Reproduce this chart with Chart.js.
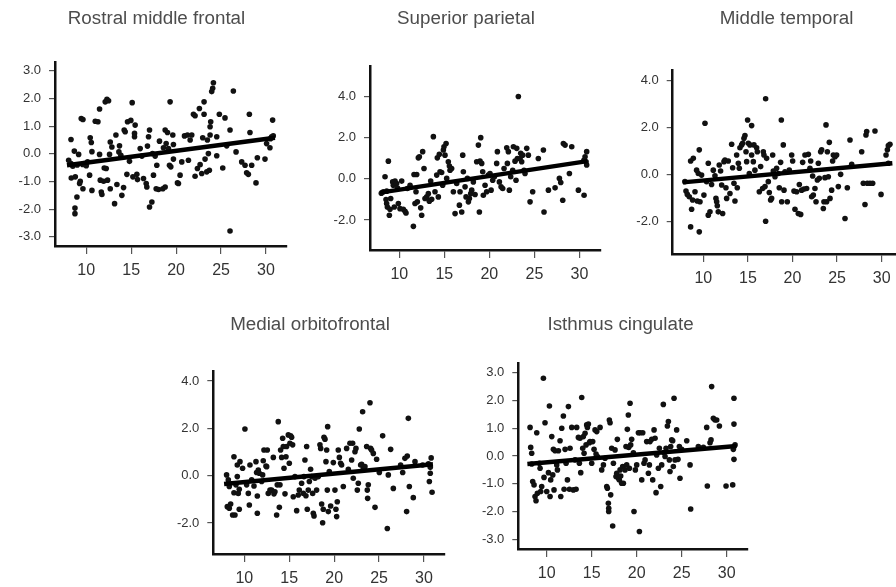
<!DOCTYPE html>
<html><head><meta charset="utf-8">
<script src="https://cdn.jsdelivr.net/npm/chart.js@4.4.1/dist/chart.umd.min.js"></script>
<style>
html,body{margin:0;padding:0;background:#fff;overflow:hidden;width:896px;height:587px;position:relative}
canvas{position:absolute}
</style></head><body>
<canvas id="c1"></canvas>
<canvas id="c2"></canvas>
<canvas id="c3"></canvas>
<canvas id="c4"></canvas>
<canvas id="c5"></canvas>
<script>
// ---------- data ----------
const titles = ["Rostral middle frontal", "Superior parietal", "Middle temporal", "Medial orbitofrontal", "Isthmus cingulate"];
const xTicks = [10, 15, 20, 25, 30];
const yTicksWide = [-3, -2, -1, 0, 1, 2, 3];
const yTicksNarrow = [-2, 0, 2, 4];

const rostralPoints = [[8.3,0.52],[8.04,-0.23],[8.3,-0.35],[8.67,0.1],[8.33,-0.87],[8.78,-0.83],[8.74,-1.96],[8.74,-2.16],[8.96,-1.56],[9.15,-0.02],[9.33,-0.99],[9.26,-1.07],[9.44,1.28],[9.63,1.24],[9.63,-1.26],[9.78,-0.35],[10,-0.43],[10.15,-0.29],[10.44,0.58],[10.56,0.41],[10.63,0.08],[10.37,-0.77],[10.63,-1.32],[11.0,1.18],[11.3,1.16],[11.48,1.62],[11.48,-0.02],[11.56,-0.95],[11.67,-1.38],[11.74,-1.47],[11.93,-0.99],[12.0,-0.51],[12.11,1.88],[12.3,1.97],[12.48,1.92],[12.22,-0.53],[12.37,-0.95],[12.59,-0.02],[12.67,0.43],[12.67,-1.26],[12.85,0.25],[13.15,-1.8],[13.3,0.68],[13.41,-1.11],[13.63,0.07],[13.7,0.29],[13.85,-0.05],[13.96,-1.5],[14.15,-1.22],[14.22,0.86],[14.33,0.8],[14.52,-0.74],[14.59,1.16],[14.81,-0.27],[14.96,1.21],[15.11,1.85],[15.19,-0.83],[15.37,0.74],[15.44,1.04],[15.37,0.62],[15.63,-0.74],[15.7,-0.93],[16.0,0.19],[16.19,-0.08],[16.37,-0.89],[16.67,-1.07],[16.74,-1.2],[16.81,0.28],[16.93,0.62],[17.04,0.86],[17.04,-1.92],[17.3,-1.74],[17.37,0.01],[17.48,-0.77],[17.67,-0.08],[17.85,-0.41],[17.78,-1.26],[18.04,-1.29],[18.15,0.46],[18.52,-1.26],[18.59,0.22],[18.78,0.86],[18.89,0.37],[18.78,-1.2],[19.04,0.77],[19.15,0.19],[19.33,1.88],[19.26,-0.41],[19.41,-0.47],[19.63,0.68],[19.7,0.34],[19.7,-0.19],[20.15,-1.05],[20.26,-1.07],[20.44,-0.77],[20.63,-0.29],[20.93,0.65],[21.26,0.68],[21.37,-0.23],[21.56,0.5],[21.74,0.68],[21.93,1.43],[22.11,1.38],[22.11,-0.81],[22.37,-0.53],[22.59,1.64],[22.67,-0.39],[22.85,-0.71],[22.96,0.58],[23.11,1.43],[23.11,1.88],[23.22,-0.19],[23.41,-0.65],[23.48,0.5],[23.59,0.01],[23.7,-0.59],[23.78,0.98],[23.85,1.16],[23.78,0.68],[23.96,2.25],[24.07,2.37],[24.15,2.57],[24.52,-0.07],[24.52,0.62],[24.81,1.43],[25.19,-0.51],[25.44,1.3],[25.63,0.29],[26.0,0.86],[26.0,-2.79],[26.37,2.27],[26.67,0.07],[27.3,-0.29],[27.67,-0.41],[27.85,-0.68],[28.04,-0.74],[28.15,1.43],[28.22,0.77],[28.41,-0.41],[28.89,-1.05],[29.04,-0.14],[29.89,-0.19],[30.07,0.37],[30.44,0.22],[30.63,0.62],[30.74,1.22],[30.81,0.65],[8.5,-0.45],[9.0,-0.4],[9.6,-0.38],[30.5,0.55]];
const rostralFit = [[7.85,-0.41],[31.0,0.58]];

const parietalPoints = [[8.41,0.1],[8.78,0.86],[8.22,-0.63],[8.52,-1.01],[8.59,-1.2],[8.67,-1.37],[8.96,-1.48],[8.89,-1.77],[9.04,-0.96],[9.26,-0.15],[9.33,-0.31],[9.44,-1.37],[9.52,-0.11],[9.7,-0.23],[9.89,-1.2],[10.07,-1.45],[10.26,-0.11],[10.44,-1.48],[10.63,-1.58],[10.74,-1.66],[10.89,-0.47],[11.19,-0.31],[11.56,-2.31],[11.63,0.21],[11.74,-1.2],[11.85,-0.63],[11.93,0.21],[12.0,-1.12],[12.11,1.02],[12.22,1.07],[12.37,-1.41],[12.48,-1.77],[12.59,1.32],[12.74,0.5],[12.85,-0.96],[13.04,-0.88],[13.22,-0.72],[13.33,-1.09],[13.48,-0.11],[13.59,-0.99],[13.78,2.05],[13.96,-0.63],[14.15,0.18],[14.22,1.02],[14.33,-0.88],[14.44,1.19],[14.52,0.34],[14.7,0.31],[14.81,-0.31],[14.89,1.4],[14.96,1.56],[15.07,1.15],[15.19,1.72],[15.26,0.02],[15.44,0.83],[15.56,0.62],[15.63,0.42],[15.81,0.5],[16.0,-0.63],[16.19,-1.69],[16.37,-0.23],[16.67,-1.28],[16.74,-0.63],[16.93,-1.61],[17.04,1.15],[17.11,0.34],[17.3,-0.39],[17.41,-0.88],[17.56,0.02],[17.67,-1.12],[17.78,-0.96],[17.93,-0.72],[18.04,-0.55],[18.22,-0.15],[18.41,-0.76],[18.59,0.83],[18.78,1.64],[18.89,-1.61],[18.96,0.86],[19.04,2.0],[19.15,0.75],[19.26,0.34],[19.33,-0.8],[19.52,-0.31],[19.7,-0.63],[19.89,0.18],[20.07,0.26],[20.19,-0.55],[20.37,-0.07],[20.56,0.1],[20.81,0.75],[20.89,1.32],[21.11,-0.15],[21.3,-0.39],[21.48,-0.47],[21.63,0.5],[21.93,1.51],[22.0,0.75],[22.11,1.32],[22.22,-0.55],[22.37,0.1],[22.59,0.42],[22.67,1.56],[22.85,0.86],[22.96,-0.07],[23.04,1.48],[23.11,0.99],[23.22,4.0],[23.41,0.99],[23.48,1.24],[23.59,0.83],[23.7,1.15],[23.85,0.42],[23.96,0.26],[24.15,1.48],[24.33,1.15],[24.52,-1.12],[24.81,-0.63],[25.44,0.99],[26.0,1.4],[26.07,-1.61],[26.56,-0.55],[27.3,-0.44],[27.78,0.02],[27.93,-0.18],[28.15,-1.04],[28.22,1.72],[28.41,1.64],[28.89,0.26],[29.15,1.56],[29.89,-0.55],[30.52,-0.8],[30.63,1.07],[30.74,0.83],[30.81,1.32],[30.81,0.67],[8.0,-0.7],[8.6,-0.6],[9.8,-0.45],[30.5,0.9]];
const parietalFit = [[7.85,-0.67],[30.9,0.86]];

const temporalPoints = [[7.94,-0.31],[8.06,-0.71],[8.21,-0.85],[8.43,-0.95],[8.58,0.57],[8.69,-1.48],[8.8,-1.09],[8.88,0.68],[9.07,-0.74],[9.25,0.18],[9.33,-1.13],[9.44,0.04],[9.55,1.04],[9.63,-1.16],[9.81,-0.03],[8.58,-2.23],[9.55,-2.44],[10.19,2.17],[10.07,-0.88],[10.37,-0.31],[10.56,0.47],[10.56,-1.73],[10.75,-1.59],[10.93,-0.43],[11.12,0.18],[11.31,-0.06],[11.42,-1.02],[11.5,-1.16],[11.57,-1.33],[11.68,-1.59],[11.79,0.4],[11.94,0.14],[12.06,-0.45],[12.17,-1.66],[12.32,0.54],[12.43,0.61],[12.54,-0.57],[12.62,-1.02],[12.8,0.57],[12.99,-0.81],[13.18,1.28],[13.29,0.28],[13.44,-0.38],[13.55,-1.13],[13.74,0.82],[13.81,-0.57],[13.93,0.47],[14.04,0.26],[14.11,1.13],[14.3,1.25],[14.41,1.32],[14.56,1.53],[14.67,1.65],[14.79,0.96],[14.86,0.54],[14.97,2.31],[15.05,1.32],[15.16,0.04],[15.23,1.25],[15.42,2.07],[15.42,0.82],[15.61,0.54],[15.68,1.25],[15.79,0.18],[15.98,1.13],[16.06,0.96],[16.28,-0.74],[16.43,0.33],[16.65,-0.6],[16.73,0.96],[16.8,0.82],[16.92,-0.52],[16.99,-1.99],[16.99,3.21],[17.1,0.68],[17.29,-0.31],[17.4,-0.77],[17.55,-1.09],[17.66,-1.02],[17.78,0.82],[17.85,0.14],[18.04,-0.1],[18.22,0.26],[18.41,0.04],[18.52,-0.57],[18.67,0.51],[18.75,2.31],[18.79,-1.16],[18.97,1.25],[19.05,-0.67],[19.16,0.11],[19.42,-1.16],[19.64,0.18],[19.91,0.82],[20.02,0.57],[20.17,-0.71],[20.28,-1.48],[20.47,-0.74],[20.65,-1.66],[20.77,-0.43],[20.92,-1.7],[21.03,-0.67],[21.14,0.51],[21.29,-0.62],[21.4,0.82],[21.59,-0.6],[21.78,0.85],[21.96,0.26],[22.04,0.57],[22.15,-0.95],[22.26,-0.07],[22.34,-0.88],[22.52,-0.6],[22.64,-1.16],[22.79,-0.24],[22.9,0.47],[23.01,-0.17],[23.16,0.96],[23.27,1.04],[23.46,-1.45],[23.53,-1.16],[23.64,-0.14],[23.76,2.1],[23.83,-1.16],[23.91,0.96],[24.02,-0.1],[24.13,1.36],[24.21,-1.02],[24.39,-0.67],[24.5,0.57],[24.58,0.82],[24.77,0.75],[24.95,0.82],[25.14,-0.52],[25.4,0],[25.89,-1.87],[26.15,-0.57],[26.45,1.46],[26.64,0.43],[27.76,0.96],[27.94,-0.38],[28.13,-1.28],[28.24,1.67],[28.32,1.82],[28.39,-0.38],[28.69,-0.38],[28.99,-0.38],[29.25,1.84],[29.93,-0.85],[30.49,0.82],[30.64,1.04],[30.75,1.22],[30.93,1.28],[30.75,0.47]];
const temporalFit = [[7.7,-0.34],[31.2,0.47]];

const orbitoPoints = [[8.03,0.03],[8.22,-0.18],[8.33,-0.46],[8.11,-1.31],[8.33,-1.38],[8.48,-1.2],[8.7,-1.66],[8.85,0.8],[8.85,-0.72],[8.96,-1.66],[9.07,-0.39],[9.22,-0.04],[9.22,0.45],[9.33,-0.75],[9.44,-0.58],[9.44,-1.42],[9.52,0.59],[9.81,0.31],[10.07,1.97],[10.26,-0.39],[10.45,-0.75],[10.56,-1.24],[10.63,0.45],[10.82,-0.18],[11.08,-0.44],[11.3,0.59],[11.37,0.13],[11.45,-0.86],[11.45,-1.59],[11.56,0.24],[11.67,0.1],[11.93,-0.25],[12.04,0.03],[12.11,0.63],[12.19,1.08],[12.41,0.41],[12.49,0.38],[12.56,1.08],[12.67,-0.75],[12.86,-0.61],[13.04,-0.61],[13.23,0.77],[13.3,-0.77],[13.41,-0.68],[13.6,-1.66],[13.67,-0.39],[13.78,2.28],[13.9,-1.34],[13.97,-0.39],[14.04,1.08],[14.16,0.77],[14.27,1.58],[14.34,1.23],[14.42,0.31],[14.53,-0.77],[14.64,0.8],[14.71,1.23],[14.9,1.72],[15.01,0.52],[15.08,1.37],[15.16,1.68],[15.27,1.62],[15.38,1.3],[15.45,-0.89],[15.64,-0.04],[15.83,-1.48],[16.01,-0.82],[16.12,-0.61],[16.38,-0.32],[16.57,-0.75],[16.64,-0.04],[16.75,0.66],[16.86,-0.85],[16.94,1.23],[17.01,-1.42],[17.12,-0.61],[17.24,-0.25],[17.38,0.27],[17.5,-0.04],[17.61,-0.75],[17.68,-1.59],[17.76,-1.7],[17.87,-0.11],[18.05,-0.61],[18.24,-0.04],[18.42,1.3],[18.5,1.15],[18.61,-1.2],[18.72,-1.99],[18.79,-1.42],[18.87,1.62],[18.98,1.54],[19.09,0.59],[19.17,1.08],[19.24,-0.61],[19.28,2.07],[19.35,-1.52],[19.46,0.17],[19.61,-1.28],[19.91,0.55],[20.09,-0.61],[20.2,-1.42],[20.28,-1.73],[20.35,-1.1],[20.46,1.08],[20.58,0.77],[20.72,0.52],[20.83,0.45],[21.02,-0.46],[21.39,1.15],[21.58,0.27],[21.76,1.37],[21.95,0.66],[22.06,1.37],[22.13,-0.11],[22.32,1.01],[22.43,1.15],[22.58,-0.61],[22.69,-0.32],[22.8,1.97],[22.95,0.45],[23.06,0.48],[23.17,2.7],[23.25,0.31],[23.43,0.38],[23.62,1.23],[23.69,-0.61],[23.73,-0.96],[23.8,-0.39],[23.99,3.08],[24.06,1.15],[24.17,1.08],[24.36,0.94],[24.55,-1.34],[24.73,0.69],[25.03,0.13],[25.4,1.68],[25.92,-2.23],[26.03,0.03],[26.29,1.11],[26.59,-0.54],[27.4,0.45],[27.63,0.13],[27.88,0.73],[28.07,-1.52],[28.14,0.83],[28.26,2.42],[28.37,-0.46],[28.81,-0.93],[29.0,0.59],[29.85,0.45],[30.5,0.5],[30.6,-0.25],[30.7,0.1],[30.8,0.75],[30.9,-0.7],[30.7,0.35]];
const orbitoFit = [[7.75,-0.35],[31.0,0.48]];

const isthmusPoints = [[8.15,1.03],[8.22,0.31],[8.33,0.1],[8.33,-0.29],[8.44,-0.92],[8.59,-1.04],[8.7,-1.46],[8.81,-1.61],[8.89,0.84],[8.96,-1.34],[9.19,-0.26],[9.26,-0.44],[9.33,-1.28],[9.44,-1.1],[9.63,2.8],[9.7,-0.77],[9.81,1.2],[10.0,-1.28],[10.19,-0.6],[10.3,1.8],[10.37,-1.46],[10.44,-0.86],[10.56,0.7],[10.67,-0.68],[10.74,0.24],[10.81,-1.22],[10.93,0.19],[11.11,-0.32],[11.19,-0.5],[11.3,0.19],[11.48,0.55],[11.56,-1.46],[11.67,1.0],[11.85,1.44],[11.93,-1.2],[12.04,0.24],[12.15,-0.26],[12.3,-0.86],[12.41,1.78],[12.52,-1.2],[12.59,0.28],[12.78,1.03],[12.96,-1.22],[13.15,-0.14],[13.26,-1.2],[13.33,1.03],[13.52,0.67],[13.63,-0.26],[13.7,0.64],[13.78,-0.6],[13.89,2.11],[14.0,0.28],[14.07,0.7],[14.15,0.1],[14.26,0.82],[14.37,0.4],[14.44,1.12],[14.52,1.03],[14.63,1.15],[14.74,0.48],[14.81,0.52],[15.0,-0.26],[15.11,0.52],[15.26,0.24],[15.37,0.94],[15.48,0.07],[15.56,0.88],[15.63,-0.02],[15.93,1.03],[16.11,-0.5],[16.3,-0.32],[16.48,-0.08],[16.67,-1.1],[16.74,-1.16],[16.85,-1.7],[16.89,-1.88],[16.89,-2.0],[16.96,1.3],[17.04,1.2],[17.11,-1.4],[17.22,0.28],[17.33,-2.52],[17.41,-0.26],[17.59,0.22],[17.7,-0.74],[17.78,-0.62],[17.85,0.6],[17.96,-0.8],[18.07,-0.86],[18.15,-0.5],[18.22,-0.72],[18.33,-0.98],[18.44,-0.38],[18.52,-0.98],[18.7,-0.5],[18.81,0.34],[18.89,-0.32],[18.96,0.96],[19.07,1.48],[19.11,0.31],[19.19,-0.44],[19.26,1.9],[19.33,0.4],[19.44,0.6],[19.63,0.12],[19.7,-2.0],[19.85,-0.5],[20.0,-0.32],[20.19,0.84],[20.3,-2.72],[20.37,0.84],[20.56,-0.86],[20.67,0.84],[20.81,-0.26],[20.93,-0.14],[21.11,0.52],[21.3,-0.62],[21.41,-0.32],[21.48,0.52],[21.67,0.6],[21.78,-0.86],[21.93,0.94],[22.04,0.64],[22.15,-1.32],[22.22,0.04],[22.41,-0.44],[22.52,0.28],[22.67,-1.1],[22.78,-0.32],[22.96,1.86],[23.04,0.12],[23.15,-0.02],[23.26,0.28],[23.41,1.08],[23.52,1.24],[23.63,-0.14],[23.7,-0.56],[23.78,0.34],[23.89,0.58],[24.0,0.55],[24.07,-0.38],[24.15,2.08],[24.26,-0.14],[24.44,0.94],[24.59,-0.12],[24.74,0.34],[24.81,-0.8],[25.0,0.24],[25.56,0.55],[25.93,-0.32],[26.0,-1.91],[26.85,0.34],[27.41,0.31],[27.78,1.03],[27.85,-1.08],[28.15,0.48],[28.26,0.58],[28.33,2.5],[28.52,1.36],[28.7,1.3],[28.89,1.3],[29.19,1.08],[29.93,-1.08],[30.67,-1.04],[30.74,0.24],[30.81,2.08],[30.81,1.15],[30.81,-0.12],[30.93,0.4]];
const isthmusFit = [[7.85,-0.29],[31.1,0.36]];

// ---------- layout (pixel placement of each panel: plot box and title centre) ----------
const FONT = "'Liberation Sans', Arial, Helvetica, sans-serif";
const panels = [
  {id:'c1', title:titles[0], pts:rostralPoints, fit:rostralFit, yTicks:yTicksWide,
   box:{l:55, r:287, t:62, b:245.5}, tc:[156.5, 19], xr:[6.52,32.34], yr:[-3.33,3.32]},
  {id:'c2', title:titles[1], pts:parietalPoints, fit:parietalFit, yTicks:yTicksNarrow,
   box:{l:370, r:601, t:66.7, b:250}, tc:[466, 19], xr:[6.74,32.4], yr:[-3.46,5.45]},
  {id:'c3', title:titles[2], pts:temporalPoints, fit:temporalFit, yTicks:yTicksNarrow,
   box:{l:672.7, r:902, t:70, b:254.3}, tc:[786.5, 19], xr:[6.57,32.28], yr:[-3.38,4.43]},
  {id:'c4', title:titles[3], pts:orbitoPoints, fit:orbitoFit, yTicks:yTicksNarrow,
   box:{l:213.3, r:445, t:371.7, b:554}, tc:[310, 324.5], xr:[6.55,32.34], yr:[-3.31,4.39]},
  {id:'c5', title:titles[4], pts:isthmusPoints, fit:isthmusFit, yTicks:yTicksWide,
   box:{l:518.3, r:748, t:363.3, b:549}, tc:[620.5, 324.5], xr:[6.84,32.37], yr:[-3.35,3.34]}
];
const TITLE_SIZE = 18.8, TITLE_LH = 1.2, XAXIS_H = 40;

panels.forEach(p => {
  const b = p.box;
  const x0 = Math.round(Math.min(b.l - 50, 2 * p.tc[0] - b.r));
  const W = Math.round(2 * (p.tc[0] - x0));
  const yw = b.l - x0;
  const rw = Math.max(0, x0 + W - b.r);
  const y0 = p.tc[1] < 100 ? 0 : 295;
  const lineBox = TITLE_SIZE * TITLE_LH;
  const ptop = p.tc[1] - y0 - lineBox / 2;
  const pbot = b.t - y0 - ptop - lineBox;
  const H = Math.round(b.b + XAXIS_H - y0);
  const cv = document.getElementById(p.id);
  cv.width = W; cv.height = H;
  cv.style.left = x0 + 'px'; cv.style.top = y0 + 'px';

  new Chart(cv, {
    type: 'scatter',
    data: {
      datasets: [
        { data: p.pts.map(d => ({x: d[0], y: d[1]})), backgroundColor: '#111', borderWidth: 0,
          pointRadius: 2.8, pointHoverRadius: 2.8, order: 2 },
        { data: p.fit.map(d => ({x: d[0], y: d[1]})), showLine: true, borderColor: '#000',
          borderWidth: 4.5, pointRadius: 0, fill: false, order: 1 }
      ]
    },
    options: {
      responsive: false, animation: false, devicePixelRatio: 1,
      layout: { padding: 0 },
      plugins: {
        legend: { display: false }, tooltip: { enabled: false },
        title: { display: true, text: p.title, color: '#4d4d4d', padding: {top: ptop, bottom: pbot},
                 font: { family: FONT, size: TITLE_SIZE, weight: 'normal', lineHeight: TITLE_LH } }
      },
      scales: {
        x: {
          type: 'linear', min: p.xr[0], max: p.xr[1],
          afterFit: s => { s.height = XAXIS_H; },
          afterBuildTicks: s => { s.ticks = xTicks.map(v => ({value: v})); },
          grid: { drawOnChartArea: false, drawTicks: true, tickLength: 8, color: '#555', lineWidth: 1.2 },
          border: { display: true, color: '#111', width: 2.5 },
          ticks: { color: '#333', padding: 7, maxRotation: 0, autoSkip: false,
                   font: { family: FONT, size: 16 }, callback: v => String(v) }
        },
        y: {
          type: 'linear', min: p.yr[0], max: p.yr[1],
          afterFit: s => { s.width = yw; },
          afterBuildTicks: s => { s.ticks = p.yTicks.map(v => ({value: v})); },
          grid: { drawOnChartArea: false, drawTicks: true, tickLength: 6, color: '#555', lineWidth: 1.2 },
          border: { display: true, color: '#111', width: 2.5 },
          ticks: { color: '#333', padding: 8, autoSkip: false,
                   font: { family: FONT, size: 13 }, callback: v => v.toFixed(1) }
        },
        spacer: {
          type: 'linear', position: 'right', display: true,
          afterFit: s => { s.width = rw; },
          grid: { display: false }, border: { display: false }, ticks: { display: false }
        }
      }
    }
  });
});
</script>
</body></html>
